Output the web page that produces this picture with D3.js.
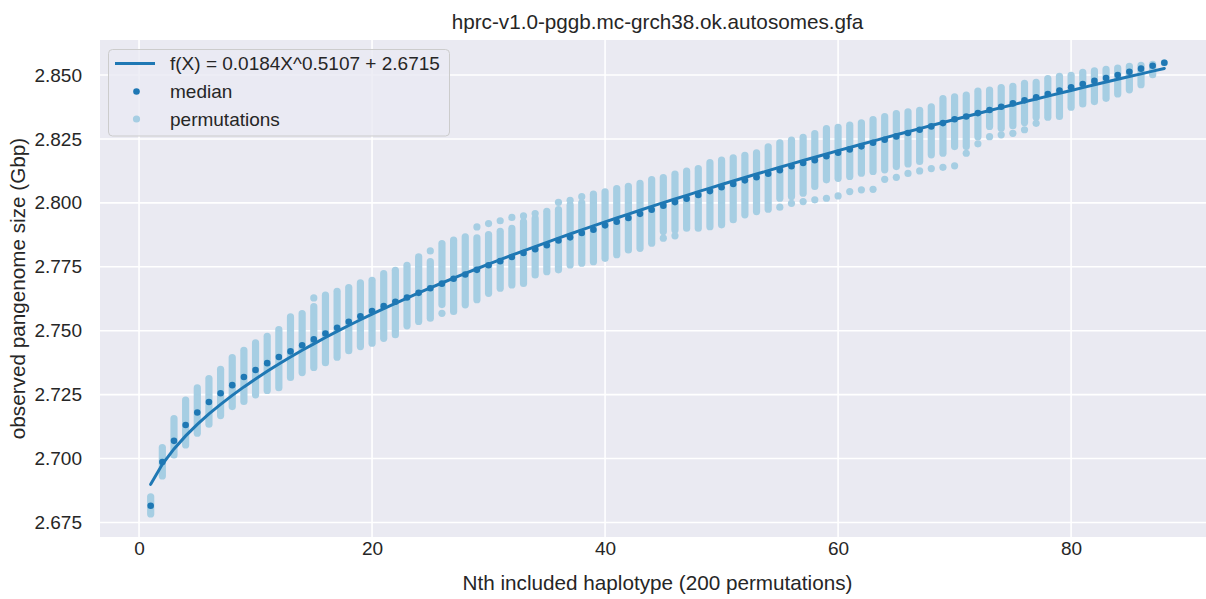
<!DOCTYPE html>
<html>
<head>
<meta charset="utf-8">
<script src="https://cdn.jsdelivr.net/npm/d3@7"></script>
<style>
  body { margin: 0; background: #fff; }
  text { font-family: "Liberation Sans", Arial, sans-serif; fill: #262626; }
</style>
</head>
<body>
<svg width="1206" height="599"></svg>
<script>
var width = 1206;
var height = 599;

// x = number of included haplotypes
var haplotypes = [1,2,3,4,5,6,7,8,9,10,11,12,13,14,15,16,17,18,19,20,21,22,23,24,25,26,27,28,29,30,
  31,32,33,34,35,36,37,38,39,40,41,42,43,44,45,46,47,48,49,50,51,52,53,54,55,56,57,58,59,60,
  61,62,63,64,65,66,67,68,69,70,71,72,73,74,75,76,77,78,79,80,81,82,83,84,85,86,87,88];

var median = [2.6815,2.6986,2.7069,2.7131,2.7180,2.7221,2.7255,2.7287,2.7319,2.7346,
  2.7373,2.7397,2.7419,2.7443,2.7466,2.7489,2.7511,2.7535,2.7556,2.7577,
  2.7596,2.7613,2.7630,2.7648,2.7666,2.7684,2.7703,2.7720,2.7738,2.7756,
  2.7772,2.7788,2.7804,2.7819,2.7834,2.7853,2.7865,2.7882,2.7895,2.7912,
  2.7926,2.7941,2.7957,2.7973,2.7989,2.8003,2.8016,2.8031,2.8046,2.8061,
  2.8074,2.8088,2.8100,2.8114,2.8128,2.8143,2.8156,2.8167,2.8182,2.8196,
  2.8209,2.8221,2.8235,2.8247,2.8260,2.8273,2.8286,2.8299,2.8312,2.8327,
  2.8338,2.8351,2.8363,2.8376,2.8389,2.8401,2.8413,2.8426,2.8439,2.8452,
  2.8465,2.8477,2.8488,2.8500,2.8513,2.8525,2.8536,2.8548];

// top and bottom of the main cloud of permutation points
var permHigh = [2.6850,2.7043,2.7156,2.7228,2.7276,2.7313,2.7349,2.7395,2.7423,2.7452,
  2.7478,2.7504,2.7554,2.7567,2.7594,2.7639,2.7654,2.7669,2.7687,2.7697,
  2.7723,2.7736,2.7756,2.7789,2.7770,2.7841,2.7854,2.7867,2.7863,2.7876,
  2.7889,2.7900,2.7926,2.7939,2.7967,2.7974,2.7991,2.8000,2.8034,2.8043,
  2.8056,2.8065,2.8076,2.8091,2.8099,2.8112,2.8124,2.8134,2.8157,2.8167,
  2.8176,2.8186,2.8196,2.8219,2.8235,2.8245,2.8256,2.8271,2.8290,2.8295,
  2.8304,2.8313,2.8326,2.8337,2.8349,2.8356,2.8362,2.8376,2.8408,2.8415,
  2.8421,2.8437,2.8441,2.8451,2.8456,2.8467,2.8471,2.8486,2.8495,2.8499,
  2.8510,2.8516,2.8522,2.8527,2.8534,2.8538,2.8542,2.8548];

var permLow = [2.6783,2.6932,2.7014,2.7053,2.7099,2.7134,2.7168,2.7203,2.7223,2.7249,
  2.7266,2.7277,2.7317,2.7336,2.7356,2.7375,2.7396,2.7422,2.7438,2.7451,
  2.7470,2.7484,2.7519,2.7536,2.7549,2.7602,2.7575,2.7601,2.7621,2.7646,
  2.7666,2.7679,2.7685,2.7718,2.7731,2.7738,2.7757,2.7764,2.7770,2.7783,
  2.7797,2.7816,2.7822,2.7842,2.7888,2.7894,2.7901,2.7901,2.7907,2.7914,
  2.7934,2.7953,2.7966,2.7975,2.8018,2.8025,2.8038,2.8064,2.8090,2.8096,
  2.8103,2.8116,2.8123,2.8129,2.8142,2.8152,2.8162,2.8188,2.8194,2.8220,
  2.8220,2.8259,2.8299,2.8292,2.8302,2.8314,2.8335,2.8335,2.8338,2.8374,
  2.8387,2.8396,2.8409,2.8426,2.8442,2.8462,2.8501,2.8548];

// permutation points lying apart from the main cloud
var outlierX = [15,25,26,29,30,31,32,33,34,36,37,38,45,46,
  55,56,57,58,59,60,61,62,63,64,65,66,67,68,69,70,71,72,73,74,75,76,77];
var outlierY = [2.7628,2.7812,2.7568,2.7906,2.7919,2.7930,2.7943,2.7949,2.7958,2.8002,2.8010,2.8024,2.7862,2.7871,
  2.7983,2.7998,2.8005,2.8012,2.8018,2.8027,2.8044,2.8051,2.8053,2.8092,2.8100,2.8115,2.8125,2.8134,2.8139,2.8145,
  2.8194,2.8231,2.8259,2.8266,2.8272,2.8286,2.8311];

// fitted power law from the legend
var fitA = 0.0184, fitB = 0.5107, fitC = 2.6715;

var xTicks = [0, 20, 40, 60, 80];
var yTicks = [2.675, 2.700, 2.725, 2.750, 2.775, 2.800, 2.825, 2.850];

var darkBlue = '#1f78b4';
var lightBlue = '#a6cee3';

var plot = {left: 100, right: 1215, top: 40, bottom: 537};

var svg = d3.select('svg');

var x = d3.scaleLinear().domain([-3.35, 92.35]).range([plot.left, plot.right]);
var y = d3.scaleLinear().domain([2.6693, 2.8637]).range([plot.bottom, plot.top]);

svg.append('rect')
  .attr('x', plot.left).attr('y', plot.top)
  .attr('width', plot.right - plot.left).attr('height', plot.bottom - plot.top)
  .attr('fill', '#eaeaf2');

// grid
svg.append('g').selectAll('line').data(yTicks).enter().append('line')
  .attr('x1', plot.left).attr('x2', plot.right)
  .attr('y1', function(d) { return y(d); }).attr('y2', function(d) { return y(d); })
  .attr('stroke', '#fff').attr('stroke-width', 1.6);
svg.append('g').selectAll('line').data(xTicks).enter().append('line')
  .attr('y1', plot.top).attr('y2', plot.bottom)
  .attr('x1', function(d) { return x(d); }).attr('x2', function(d) { return x(d); })
  .attr('stroke', '#fff').attr('stroke-width', 1.6);

// axes
var yAxis = svg.append('g')
  .attr('transform', 'translate(' + plot.left + ',0)')
  .call(d3.axisLeft(y).tickValues(yTicks).tickFormat(d3.format('.3f')).tickSize(0).tickPadding(18));
var xAxis = svg.append('g')
  .attr('transform', 'translate(0,' + plot.bottom + ')')
  .call(d3.axisBottom(x).tickValues(xTicks).tickFormat(d3.format('d')).tickSize(0).tickPadding(5));
[xAxis, yAxis].forEach(function(a) {
  a.select('.domain').remove();
  a.selectAll('text').attr('font-family', '"Liberation Sans", Arial, sans-serif')
    .attr('font-size', 19).attr('fill', '#262626');
});

// permutations: cloud drawn as round-capped strokes, one per haplotype count
var rows = haplotypes.map(function(h, i) {
  return {h: h, low: permLow[i], high: permHigh[i], med: median[i]};
});

svg.append('g').selectAll('line').data(rows).enter().append('line')
  .attr('x1', function(d) { return x(d.h); }).attr('x2', function(d) { return x(d.h); })
  .attr('y1', function(d) { return y(d.high); }).attr('y2', function(d) { return y(d.low); })
  .attr('stroke', lightBlue).attr('stroke-width', 7.2).attr('stroke-linecap', 'round');

svg.append('g').selectAll('circle').data(outlierX).enter().append('circle')
  .attr('cx', function(d) { return x(d); })
  .attr('cy', function(d, i) { return y(outlierY[i]); })
  .attr('r', 3.6).attr('fill', lightBlue);

// medians
svg.append('g').selectAll('circle').data(rows).enter().append('circle')
  .attr('cx', function(d) { return x(d.h); })
  .attr('cy', function(d) { return y(d.med); })
  .attr('r', 3.3).attr('fill', darkBlue);

// fit
var fitLine = d3.line()
  .x(function(d) { return x(d); })
  .y(function(d) { return y(fitA * Math.pow(d, fitB) + fitC); });
svg.append('path').datum(haplotypes)
  .attr('d', fitLine).attr('fill', 'none')
  .attr('stroke', darkBlue).attr('stroke-width', 3).attr('stroke-linecap', 'round');

// legend
var lg = svg.append('g');
lg.append('rect').attr('x', 108.5).attr('y', 49.5).attr('width', 341).attr('height', 86.5)
  .attr('rx', 4).attr('fill', '#eaeaf2').attr('fill-opacity', 0.8)
  .attr('stroke', '#cccccc').attr('stroke-width', 1);
lg.append('line').attr('x1', 115).attr('x2', 155).attr('y1', 63.5).attr('y2', 63.5)
  .attr('stroke', darkBlue).attr('stroke-width', 3);
lg.append('circle').attr('cx', 136.5).attr('cy', 91.5).attr('r', 3.3).attr('fill', darkBlue);
lg.append('circle').attr('cx', 136.5).attr('cy', 119).attr('r', 3.6).attr('fill', lightBlue);
var legendText = ['f(X) = ' + fitA + 'X^' + fitB + ' + ' + fitC, 'median', 'permutations'];
lg.selectAll('text.lt').data(legendText).enter().append('text')
  .attr('class', 'lt')
  .attr('x', 170).attr('y', function(d, i) { return 70 + i * 27.8; })
  .attr('font-size', 19)
  .text(function(d) { return d; });

// titles
svg.append('text').attr('x', (plot.left + plot.right) / 2).attr('y', 29)
  .attr('text-anchor', 'middle').attr('font-size', 20.7)
  .text('hprc-v1.0-pggb.mc-grch38.ok.autosomes.gfa');
svg.append('text').attr('x', (plot.left + plot.right) / 2).attr('y', 590)
  .attr('text-anchor', 'middle').attr('font-size', 20.7)
  .text('Nth included haplotype (200 permutations)');
svg.append('text')
  .attr('transform', 'translate(25,' + (plot.top + plot.bottom) / 2 + ') rotate(-90)')
  .attr('text-anchor', 'middle').attr('font-size', 20.7)
  .text('observed pangenome size (Gbp)');
</script>
</body>
</html>
